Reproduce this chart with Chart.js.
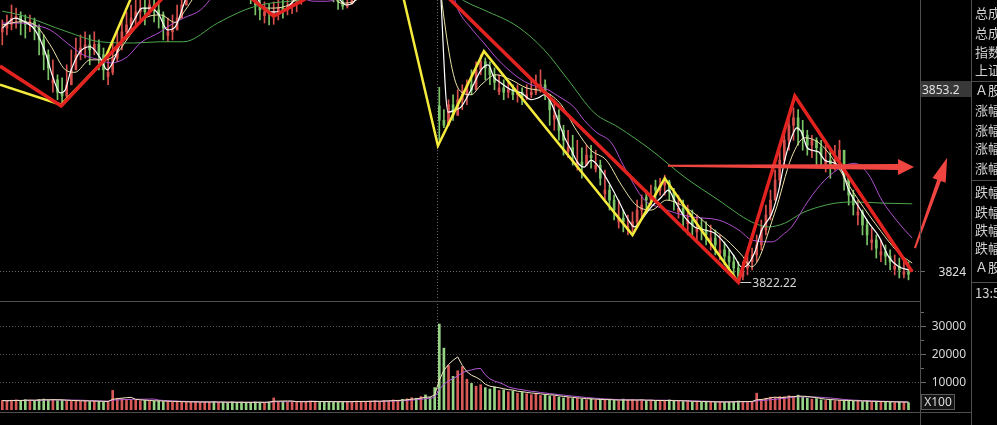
<!DOCTYPE html>
<html lang="zh">
<head>
<meta charset="utf-8">
<title>上证指数 分钟K线</title>
<script src="https://cdn.jsdelivr.net/npm/chart.js@4.4.1/dist/chart.umd.min.js"></script>
<style>
  html, body { margin: 0; padding: 0; background: #000; overflow: hidden; }
  #wrap { position: relative; width: 997px; height: 425px; background: #000; }
  canvas { position: absolute; left: 0; }
  #priceChart { top: 0; }
  #volChart { top: 301px; }
  .rule { position: absolute; background: #4e4e4e; }
  #side { position: absolute; left: 972px; top: 0; width: 25px; height: 425px; overflow: hidden; }
  #side div { position: absolute; left: 3px; white-space: nowrap; font: 13px "Noto Sans CJK SC", sans-serif; color: #d2d2d2; line-height: 16px; }
  #x100 { position: absolute; left: 921px; top: 394px; width: 32px; height: 14px; border: 1px solid #5a5a5a; background: #141414;
          color: #dcdcdc; font: 12px "Noto Sans", sans-serif; line-height: 14px; text-align: center; }
</style>
</head>
<body>
<div id="wrap">
  <canvas id="priceChart" width="997" height="300"></canvas>
  <canvas id="volChart" width="997" height="124"></canvas>

  <div class="rule" style="left:920px;top:0;width:1px;height:425px"></div>
  <div class="rule" style="left:971px;top:0;width:1px;height:425px"></div>
  <div class="rule" style="left:0;top:301px;width:920px;height:1px"></div>
  <div class="rule" style="left:0;top:412px;width:971px;height:1px"></div>
  <div class="rule" style="left:972px;top:81px;width:25px;height:1px"></div>
  <div class="rule" style="left:972px;top:180px;width:25px;height:1px"></div>
  <div class="rule" style="left:972px;top:282px;width:25px;height:1px"></div>

  <div id="x100">X100</div>

  <div id="side">
    <div style="top:5px">总成交额</div>
    <div style="top:25px">总成交量</div>
    <div style="top:44px">指数涨跌</div>
    <div style="top:62px">上证指数</div>
    <div style="top:82px">Ａ股涨家数</div>
    <div style="top:102px">涨幅&gt;7%</div>
    <div style="top:122px">涨幅5-7%</div>
    <div style="top:140px">涨幅3-5%</div>
    <div style="top:160px">涨幅0-3%</div>
    <div style="top:184px">跌幅0-3%</div>
    <div style="top:204px">跌幅3-5%</div>
    <div style="top:222px">跌幅5-7%</div>
    <div style="top:240px">跌幅&gt;7%</div>
    <div style="top:259px">Ａ股跌家数</div>
    <div style="top:285px">13:55</div>
  </div>
</div>

<script>
// ---- bar data (one entry per minute bar) ----
const opens = [
  3862.4, 3863.0, 3863.6, 3864.6, 3864.9, 3864.0, 3863.6, 3864.0, 3863.0, 3861.1,
  3858.7, 3854.2, 3854.7, 3852.7, 3852.1, 3853.9, 3856.3, 3858.7, 3859.8, 3860.3,
  3859.5, 3860.4, 3858.7, 3855.2, 3855.9, 3858.2, 3860.3, 3862.4, 3863.5, 3864.6,
  3865.6, 3866.2, 3865.6, 3866.7, 3865.9, 3865.1, 3861.8, 3862.4, 3862.7, 3864.6,
  3866.7, 3869.1, 3870.5, 3872.0, 3873.2, 3874.0, 3875.0, 3874.5, 3875.5, 3874.8,
  3873.5, 3872.5, 3871.5, 3870.5, 3869.5, 3868.5, 3866.7, 3865.0, 3865.6, 3865.0,
  3865.6, 3866.2, 3865.9, 3866.5, 3866.9, 3867.2, 3868.5, 3869.8, 3870.6, 3871.2,
  3870.8, 3870.0, 3869.2, 3868.4, 3867.2, 3866.5, 3866.9, 3867.8, 3868.8, 3869.9,
  3871.0, 3871.8, 3872.5, 3873.4, 3874.2, 3874.8, 3875.5, 3876.0, 3875.6, 3876.2,
  3876.8, 3876.3, 3877.0, 3876.5, 3875.8, 3850.5, 3848.2, 3847.4, 3850.7, 3849.0,
  3851.5, 3852.3, 3853.9, 3853.1, 3856.3, 3857.6, 3856.6, 3855.5, 3852.8, 3853.4,
  3852.7, 3853.1, 3852.3, 3852.7, 3851.8, 3852.3, 3852.7, 3853.4, 3853.9, 3852.3,
  3848.4, 3849.0, 3846.6, 3843.2, 3843.8, 3840.9, 3841.5, 3841.0, 3842.6, 3840.4,
  3841.0, 3836.4, 3837.0, 3835.4, 3831.9, 3832.5, 3830.6, 3831.2, 3831.9, 3833.8,
  3835.9, 3835.4, 3837.5, 3837.0, 3837.8, 3838.3, 3836.7, 3833.5, 3834.1, 3831.6,
  3832.2, 3830.3, 3830.9, 3830.6, 3828.8, 3829.3, 3826.8, 3827.4, 3826.4, 3825.5,
  3824.5, 3823.2, 3824.5, 3825.5, 3826.6, 3828.2, 3830.6, 3833.0, 3835.4, 3838.6,
  3841.8, 3845.0, 3847.4, 3848.6, 3846.6, 3845.8, 3844.2, 3845.0, 3843.8, 3841.2,
  3841.8, 3841.0, 3841.8, 3843.4, 3838.9, 3836.2, 3833.0, 3833.5, 3831.4, 3828.6,
  3829.0, 3826.6, 3827.1, 3826.4, 3824.3, 3824.8, 3823.5, 3823.9
];
const highs = [
  3864.3, 3865.1, 3866.7, 3866.2, 3865.6, 3865.1, 3865.1, 3864.6, 3863.5, 3861.9,
  3859.5, 3857.9, 3855.5, 3855.0, 3857.1, 3859.5, 3861.4, 3861.9, 3862.4, 3861.9,
  3862.4, 3861.1, 3859.8, 3858.7, 3860.8, 3862.7, 3864.3, 3865.6, 3866.7, 3867.8,
  3868.3, 3867.8, 3868.5, 3867.5, 3867.2, 3865.6, 3864.6, 3865.1, 3866.7, 3868.3,
  3869.9, 3872.0, 3873.5, 3874.8, 3875.5, 3876.5, 3876.2, 3877.0, 3876.5, 3875.5,
  3874.5, 3873.2, 3872.5, 3871.2, 3870.2, 3868.3, 3867.5, 3867.2, 3866.9, 3867.2,
  3867.8, 3867.5, 3868.3, 3868.8, 3869.5, 3870.5, 3871.5, 3872.4, 3873.0, 3872.5,
  3871.8, 3870.8, 3870.0, 3869.0, 3868.0, 3868.5, 3869.2, 3870.5, 3871.6, 3872.5,
  3873.4, 3874.0, 3875.0, 3875.8, 3876.5, 3877.2, 3877.6, 3877.2, 3877.8, 3878.4,
  3878.0, 3878.6, 3878.2, 3877.4, 3876.8, 3853.5, 3849.9, 3851.5, 3852.3, 3853.1,
  3853.9, 3854.7, 3856.3, 3857.6, 3858.7, 3858.2, 3857.6, 3856.6, 3855.5, 3854.7,
  3854.3, 3853.9, 3853.9, 3853.4, 3853.9, 3854.7, 3855.5, 3856.3, 3854.7, 3852.3,
  3851.5, 3849.9, 3847.4, 3846.6, 3845.8, 3845.0, 3843.8, 3844.2, 3844.2, 3843.4,
  3841.8, 3840.2, 3837.8, 3836.2, 3835.4, 3833.8, 3833.0, 3833.5, 3835.4, 3836.2,
  3837.0, 3837.8, 3838.6, 3838.9, 3839.4, 3838.6, 3837.3, 3836.2, 3835.4, 3834.6,
  3833.8, 3833.0, 3832.5, 3831.9, 3831.4, 3830.6, 3829.8, 3828.7, 3827.4, 3826.6,
  3825.5, 3825.5, 3826.6, 3827.7, 3829.8, 3832.2, 3834.6, 3837.0, 3840.2, 3843.4,
  3846.6, 3848.6, 3850.2, 3849.9, 3848.2, 3846.6, 3845.8, 3845.4, 3845.0, 3844.2,
  3843.4, 3844.2, 3845.0, 3841.8, 3839.4, 3837.0, 3835.4, 3833.8, 3832.2, 3830.9,
  3829.8, 3829.0, 3828.2, 3827.4, 3826.6, 3826.1, 3825.8, 3825.5
];
const lows = [
  3860.3, 3861.9, 3862.7, 3863.0, 3861.9, 3861.4, 3862.4, 3861.1, 3858.7, 3856.3,
  3854.7, 3852.7, 3851.5, 3851.1, 3851.8, 3853.9, 3856.3, 3857.9, 3858.2, 3857.1,
  3858.7, 3856.3, 3854.7, 3853.9, 3855.5, 3857.6, 3859.5, 3861.1, 3862.7, 3863.5,
  3864.3, 3863.5, 3865.1, 3864.0, 3863.0, 3861.1, 3860.8, 3861.1, 3862.7, 3865.1,
  3866.7, 3868.5, 3869.8, 3871.0, 3872.0, 3873.0, 3872.8, 3873.5, 3873.0, 3871.8,
  3870.8, 3869.8, 3868.8, 3867.8, 3866.9, 3865.1, 3864.3, 3863.8, 3863.5, 3863.6,
  3864.3, 3864.6, 3865.1, 3865.3, 3865.6, 3866.8, 3868.0, 3868.9, 3869.5, 3869.2,
  3868.5, 3867.9, 3867.2, 3866.0, 3866.0, 3866.2, 3866.8, 3867.6, 3868.6, 3869.6,
  3870.4, 3871.0, 3871.8, 3872.8, 3873.2, 3874.0, 3874.5, 3874.0, 3874.7, 3875.2,
  3874.8, 3875.4, 3875.0, 3874.2, 3873.4, 3845.0, 3847.0, 3847.4, 3848.2, 3849.0,
  3849.9, 3850.7, 3852.3, 3853.9, 3855.5, 3854.7, 3853.9, 3853.1, 3852.3, 3851.5,
  3851.8, 3851.5, 3851.1, 3850.7, 3851.5, 3851.8, 3852.3, 3852.7, 3851.5, 3847.4,
  3846.6, 3845.0, 3842.6, 3842.2, 3841.0, 3840.2, 3838.9, 3841.0, 3840.5, 3839.9,
  3837.8, 3835.4, 3833.8, 3832.2, 3830.9, 3830.3, 3829.8, 3830.3, 3831.4, 3832.5,
  3833.5, 3834.6, 3835.4, 3836.2, 3836.2, 3835.4, 3833.8, 3832.5, 3830.6, 3829.8,
  3829.3, 3829.0, 3829.0, 3828.2, 3827.4, 3826.6, 3825.8, 3825.0, 3824.2, 3823.4,
  3822.22, 3822.6, 3823.4, 3824.2, 3825.5, 3827.4, 3829.8, 3832.2, 3835.4, 3837.8,
  3841.0, 3843.4, 3845.0, 3844.2, 3843.4, 3842.6, 3842.2, 3841.0, 3840.5, 3839.9,
  3838.9, 3840.2, 3841.0, 3837.0, 3834.6, 3833.0, 3831.4, 3829.8, 3828.2, 3827.4,
  3826.1, 3825.5, 3825.0, 3824.2, 3823.4, 3822.9, 3822.9, 3822.6
];
const closes = [
  3863.0, 3863.6, 3864.6, 3864.9, 3864.0, 3863.6, 3864.0, 3863.0, 3861.1, 3858.7,
  3856.6, 3854.7, 3852.7, 3852.1, 3853.9, 3856.3, 3858.7, 3859.8, 3860.3, 3859.5,
  3860.4, 3858.7, 3856.3, 3855.9, 3858.2, 3860.3, 3862.4, 3863.5, 3864.6, 3865.6,
  3866.2, 3865.6, 3866.7, 3865.9, 3865.1, 3863.0, 3862.4, 3862.7, 3864.6, 3866.7,
  3869.1, 3870.5, 3872.0, 3873.2, 3874.0, 3875.0, 3874.5, 3875.5, 3874.8, 3873.5,
  3872.5, 3871.5, 3870.5, 3869.5, 3868.5, 3866.7, 3865.9, 3865.6, 3865.3, 3865.6,
  3866.2, 3865.9, 3866.5, 3866.9, 3867.2, 3868.5, 3869.8, 3870.6, 3871.2, 3870.8,
  3870.0, 3869.2, 3868.4, 3867.2, 3866.5, 3866.9, 3867.8, 3868.8, 3869.9, 3871.0,
  3871.8, 3872.5, 3873.4, 3874.2, 3874.8, 3875.5, 3876.0, 3875.6, 3876.2, 3876.8,
  3876.3, 3877.0, 3876.5, 3875.8, 3875.0, 3848.2, 3847.4, 3850.7, 3849.0, 3851.5,
  3852.3, 3853.9, 3853.1, 3856.3, 3857.6, 3856.6, 3855.5, 3854.3, 3853.4, 3852.7,
  3853.1, 3852.3, 3852.7, 3851.8, 3852.3, 3852.7, 3853.4, 3853.9, 3852.3, 3849.9,
  3849.0, 3846.6, 3845.0, 3843.8, 3842.6, 3841.5, 3841.0, 3842.6, 3842.2, 3841.0,
  3838.9, 3837.0, 3835.4, 3833.8, 3832.5, 3831.9, 3831.2, 3831.9, 3833.8, 3834.6,
  3835.4, 3836.2, 3837.0, 3837.8, 3838.3, 3836.7, 3835.4, 3834.1, 3833.0, 3832.2,
  3831.4, 3830.9, 3830.6, 3829.8, 3829.3, 3828.2, 3827.4, 3826.4, 3825.5, 3824.5,
  3823.2, 3824.5, 3825.5, 3826.6, 3828.2, 3830.6, 3833.0, 3835.4, 3838.6, 3841.8,
  3845.0, 3847.4, 3848.6, 3846.6, 3845.8, 3844.2, 3845.0, 3843.8, 3842.6, 3841.8,
  3841.0, 3841.8, 3843.4, 3838.9, 3836.2, 3834.6, 3833.5, 3831.4, 3829.8, 3829.0,
  3827.7, 3827.1, 3826.4, 3825.5, 3824.8, 3824.2, 3823.9, 3823.5
];
const volumes = [
  3400, 3200, 3500, 3600, 3300, 3700, 3500, 3400, 3800, 3900,
  3600, 3700, 3400, 3500, 3300, 3200, 3400, 3100, 3300, 3000,
  3200, 3100, 2900, 3000, 7000, 4200, 4000, 3800, 3600, 3500,
  3300, 3400, 3200, 3100, 3300, 3000, 3100, 2900, 3000, 2800,
  2900, 2800, 3000, 2700, 2900, 2800, 3000, 2700, 2800, 2600,
  2900, 2700, 2800, 2600, 2700, 2900, 2800, 2700, 2900, 4300,
  3100, 3000, 2800, 2900, 3100, 3000, 2900, 3200, 3000, 2900,
  3100, 3000, 2800, 3000, 2900, 3100, 3000, 3200, 3100, 3000,
  3200, 3300, 3100, 3400, 3300, 3600, 3500, 3800, 4000, 4400,
  4200, 4800, 5400, 4500, 8000, 30700, 22100, 16000, 12000, 14000,
  15500, 11000, 9500, 8500, 9000, 8000, 7500, 8200, 7000, 7200,
  6500, 6800, 6000, 6300, 5800, 5500, 6000, 5200, 5400, 5000,
  5000, 4600, 4300, 4500, 4100, 4200, 3900, 3700, 4000, 3600,
  3800, 3500, 3700, 3400, 3300, 3900, 3500, 3700, 3400, 3600,
  3300, 3500, 3200, 3400, 3300, 3600, 3100, 3300, 3000, 3200,
  2900, 3100, 2800, 3000, 2900, 2700, 3000, 2800, 2900, 3100,
  3200, 3000, 2900, 3100, 6000, 3800, 4200, 4600, 4400, 4800,
  4700, 5100, 4900, 5300, 4600, 4300, 3900, 4100, 3600, 3400,
  3700, 3300, 3500, 3200, 3400, 3100, 3300, 3000, 3200, 2900,
  3100, 2800, 3000, 2900, 2700, 2900, 2800, 2600
];

// ---- average lines: [bar index, price] ----
const ma5Line = [
  [0,3863.0],[2.8,3864.6],[4.9,3864.0],[7.1,3862.7],[9.3,3859.2],[11.0,3855.1],[12.6,3852.6],[13.7,3853.1],
  [14.8,3855.9],[16.9,3859.2],[19.1,3860.0],[21.3,3858.2],[22.8,3856.3],[24.1,3857.6],[25.6,3860.3],[27.2,3862.2],
  [28.9,3864.6],[30.4,3866.2],[32.2,3866.2],[33.9,3865.3],[35.9,3862.7],[37.6,3863.2],[39.4,3866.7],[40.5,3869.1],
  [46,3874.0],[52,3871.0],[55.1,3868.3],[56.6,3866.2],[58.3,3865.6],[60.1,3865.6],[61.8,3866.2],[63.8,3867.8],
  [67,3870.5],[71,3869.5],[73.1,3867.8],[74.7,3866.7],[76.2,3867.0],[77.9,3869.1],[84,3874.0],[94.5,3875.5],
  [96.9,3849.5],[98.6,3849.9],[99.7,3850.3],[101.9,3853.1],[104.1,3856.3],[105.6,3857.1],[106.9,3855.1],[108.4,3854.2],
  [110.6,3853.1],[112.8,3852.6],[115.0,3851.5],[116.5,3851.8],[117.8,3852.3],[119.3,3851.0],[120.8,3848.2],[122.2,3845.5],
  [123.7,3843.4],[125.2,3841.3],[126.5,3840.7],[128.0,3841.8],[130.2,3840.2],[132.4,3837.5],[133.9,3835.4],[136.1,3832.2],
  [137.4,3831.1],[138.9,3832.2],[141.1,3834.3],[143.3,3835.9],[144.8,3837.0],[146.1,3835.4],[148.3,3832.7],[150.5,3831.1],
  [152.7,3830.6],[154.8,3830.1],[157.0,3828.5],[159.2,3826.3],[160.7,3824.7],[161.4,3824.7],[163.5,3826.9],[165.1,3830.6],
  [167.3,3833.3],[168.8,3837.0],[170.1,3841.8],[171.6,3845.5],[172.7,3847.0],[173.8,3846.2],[174.9,3843.9],[176.0,3843.4],
  [177.5,3843.1],[178.8,3841.8],[181.0,3841.3],[182.5,3840.2],[184.0,3837.0],[186.2,3834.3],[188.4,3831.7],[190.6,3829.5],
  [192.7,3826.3],[194.9,3824.7],[197.1,3824.2]
];
const ma10Line = [
  [0,3863.5],[3.9,3864.0],[7.1,3863.5],[10.4,3860.3],[13.7,3856.3],[15.8,3855.9],[19.1,3857.9],[22.4,3857.9],
  [25.2,3859.2],[27.8,3861.9],[31.1,3864.6],[34.4,3865.1],[37.6,3863.9],[39.8,3865.9],[42,3868.3],[48,3873.0],
  [53,3870.0],[55.1,3867.0],[58.3,3866.2],[61.6,3866.5],[64.9,3868.0],[70,3870.0],[73.6,3867.0],[76.2,3867.2],
  [80,3869.5],[88,3875.0],[94.5,3876.0],[95.4,3868.3],[99.3,3853.1],[101.9,3852.3],[104.1,3853.9],[107.3,3855.5],
  [110.6,3854.7],[113.9,3853.4],[118.2,3852.7],[121.5,3850.7],[124.8,3846.6],[128.0,3843.4],[131.3,3841.8],[134.6,3837.8],
  [137.8,3834.6],[141.1,3833.8],[144.4,3835.4],[147.6,3834.6],[150.9,3833.0],[154.2,3830.9],[157.5,3829.0],[160.7,3826.6],
  [162.9,3824.7],[167.9,3833.3],[171.6,3842.3],[174.5,3845.4],[177.5,3844.6],[180.3,3842.3],[184.7,3837.0],[189.7,3831.7],
  [194.9,3826.9],[197.8,3825.3]
];
const ma20Line = [
  [0,3863.8],[3.9,3863.8],[6.7,3863.5],[10.4,3862.7],[14.1,3860.6],[17.6,3858.7],[21.3,3857.9],[23.5,3857.4],
  [27.2,3858.4],[30.0,3860.6],[34.4,3862.4],[35.9,3863.2],[39.4,3864.6],[43.1,3865.9],[45.7,3868.0],[50,3871.0],
  [60,3870.0],[64.9,3868.0],[67.7,3867.3],[70.7,3867.3],[73.6,3868.0],[80,3871.0],[94,3874.0],[98.0,3868.3],
  [99.1,3865.9],[101.9,3863.0],[104.7,3860.6],[107.8,3857.9],[112.1,3855.1],[115.0,3853.9],[117.8,3853.4],[120.8,3852.1],
  [124.3,3850.3],[126.5,3848.2],[129.1,3846.3],[132.4,3844.6],[135.2,3840.7],[139.6,3835.4],[142.6,3834.3],[149.8,3832.7],
  [155.7,3832.2],[160.1,3830.6],[162.9,3829.0],[167.3,3828.7],[170.1,3830.1],[171.6,3831.1],[175.3,3835.4],[178.8,3838.6],
  [182.5,3840.7],[185.3,3841.3],[188.4,3839.4],[191.2,3835.4],[194.9,3831.7],[197.8,3829.3]
];
const ma60Line = [
  [0,3865.7],[3.9,3865.1],[14.1,3862.4],[21.3,3860.8],[28.5,3860.6],[34.4,3860.8],[39.4,3860.8],[46.8,3863.8],
  [51.1,3865.4],[54.6,3866.4],[58.3,3867.0],[62.7,3867.3],[67.0,3867.7],[69.2,3868.3],[80,3870.0],[94,3872.0],
  [98.6,3868.3],[100.8,3867.2],[104.7,3865.9],[112.1,3863.2],[117.8,3859.5],[123.0,3854.7],[128.7,3849.4],[133.9,3847.1],
  [141.1,3843.4],[148.3,3839.1],[155.7,3835.4],[162.9,3831.9],[166.6,3831.1],[170.1,3831.7],[173.8,3833.3],[177.5,3834.3],
  [181.0,3834.9],[184.7,3835.1],[191.9,3834.9],[197.8,3834.8]
];

// ---- hand-drawn trend marks: [bar index, price] ----
const redZigzag = [[-0.5,3856.9],[12.8,3850.5],[43.1,3874.3],[59.0,3864.9],[86.0,3875.8],[160,3822.22],[172.3,3852.1],[197.8,3823.9]];
const yellowZigzag = [[-0.5,3853.9],[12.8,3850.7],[22.2,3857.9],[27.8,3867.5],[30.7,3872.3],[31.5,null],
                      [85.8,3872.3],[94.7,3844.1],[104.7,3859.3],[137.0,3829.8],[144.0,3838.9],[160,3822.22]];
const arrowFlat = [[144.7,3840.9],[198.2,3840.7]];
const arrowUp = [[198.4,3827.7],[205.4,3842.2]];

// ---- axis values ----
const priceRange = [3819.37, 3867.5];
const priceLabels = [3853.2, 3824];
const lowMark = [160, 3822.22];
const dayBreak = 94.5;
const volTicks = [10000, 20000, 30000];
const volRange = [0, 38930];

const upColor = '#d8504e';
const downColor = '#7cc468';
const idx = closes.map((_, i) => i);
const barColor = idx.map(i => closes[i] >= opens[i] ? upColor : downColor);
const pts = arr => arr.map(([x, y]) => ({ x, y }));

function movingAvg(arr, n) {
    return arr.map((_, i) => {
        const s = arr.slice(Math.max(0, i - n + 1), i + 1);
        return s.reduce((a, b) => a + b, 0) / s.length;
    });
}

function dotted(ctx, x1, y1, x2, y2, color) {
    ctx.save();
    ctx.strokeStyle = color;
    ctx.lineWidth = 1;
    ctx.setLineDash([1, 2]);
    ctx.beginPath();
    ctx.moveTo(x1, y1);
    ctx.lineTo(x2, y2);
    ctx.stroke();
    ctx.restore();
}

// tapered arrow from p0 to tip p1 (pixels)
function arrow(ctx, p0, p1, w0, w1, headLen, headHalf, color) {
    const dx = p1[0] - p0[0], dy = p1[1] - p0[1];
    const len = Math.hypot(dx, dy);
    const ux = dx / len, uy = dy / len, nx = -uy, ny = ux;
    const bx = p1[0] - ux * headLen, by = p1[1] - uy * headLen;
    ctx.save();
    ctx.fillStyle = color;
    ctx.beginPath();
    ctx.moveTo(p0[0] + nx * w0 / 2, p0[1] + ny * w0 / 2);
    ctx.lineTo(bx + nx * w1 / 2, by + ny * w1 / 2);
    ctx.lineTo(bx + nx * headHalf, by + ny * headHalf);
    ctx.lineTo(p1[0], p1[1]);
    ctx.lineTo(bx - nx * headHalf, by - ny * headHalf);
    ctx.lineTo(bx - nx * w1 / 2, by - ny * w1 / 2);
    ctx.lineTo(p0[0] - nx * w0 / 2, p0[1] - ny * w0 / 2);
    ctx.closePath();
    ctx.fill();
    ctx.restore();
}

const priceOverlay = {
    id: 'priceOverlay',
    beforeDatasetsDraw(chart) {
        const { ctx, chartArea: a, scales: { x, y } } = chart;
        const gy = Math.round(y.getPixelForValue(3824)) + 0.5;
        dotted(ctx, a.left, gy, a.right, gy, '#6a6a6a');
        const bx = Math.round(x.getPixelForValue(dayBreak)) + 0.5;
        dotted(ctx, bx, a.top, bx, a.bottom, '#6a6a6a');
    },
    afterDatasetsDraw(chart) {
        const { ctx, chartArea: a, scales: { x, y } } = chart;
        const px = p => [x.getPixelForValue(p[0]), y.getPixelForValue(p[1])];

        arrow(ctx, px(arrowFlat[0]), px(arrowFlat[1]), 2, 6, 16, 8, '#ee4540');
        arrow(ctx, px(arrowUp[0]), px(arrowUp[1]), 2, 4, 24, 7, '#ee4540');

        // low marker
        const [lx, ly] = px(lowMark);
        ctx.save();
        ctx.strokeStyle = '#d0d0d0';
        ctx.lineWidth = 1;
        ctx.beginPath();
        ctx.moveTo(lx + 2, Math.round(ly) + 0.5);
        ctx.lineTo(lx + 13, Math.round(ly) + 0.5);
        ctx.stroke();
        ctx.fillStyle = '#d4d4d4';
        ctx.font = '12px "Noto Sans", sans-serif';
        ctx.textBaseline = 'middle';
        ctx.fillText(lowMark[1].toFixed(2), lx + 14, ly + 1);

        // right price axis labels
        priceLabels.forEach((v, k) => {
            const py = y.getPixelForValue(v);
            if (k === 0) {
                ctx.fillStyle = '#383838';
                ctx.fillRect(a.right + 1, Math.round(py) - 8, 50, 16);
                ctx.fillStyle = '#e0e0e0';
                ctx.textAlign = 'left';
                ctx.fillText(String(v), a.right + 2, py + 1);
            } else {
                ctx.fillStyle = '#6a6a6a';
                ctx.fillRect(a.right + 1, Math.round(py), 4, 1);
                ctx.fillStyle = '#e0e0e0';
                ctx.textAlign = 'right';
                ctx.fillText(String(v), a.right + 46, py + 1);
            }
        });
        ctx.restore();
    }
};

const volOverlay = {
    id: 'volOverlay',
    beforeDatasetsDraw(chart) {
        const { ctx, chartArea: a, scales: { x, y } } = chart;
        volTicks.forEach(v => {
            const gy = Math.round(y.getPixelForValue(v)) + 0.5;
            dotted(ctx, a.left, gy, a.right, gy, '#555555');
        });
        const bx = Math.round(x.getPixelForValue(dayBreak)) + 0.5;
        dotted(ctx, bx, a.top, bx, a.bottom, '#6a6a6a');
    },
    afterDatasetsDraw(chart) {
        const { ctx, chartArea: a, scales: { y } } = chart;
        ctx.save();
        ctx.font = '12px "Noto Sans", sans-serif';
        ctx.textBaseline = 'middle';
        ctx.textAlign = 'right';
        volTicks.forEach(v => {
            const py = y.getPixelForValue(v);
            ctx.fillStyle = '#6a6a6a';
            ctx.fillRect(a.right + 1, Math.round(py), 5, 1);
            ctx.fillRect(a.right + 1, Math.round(y.getPixelForValue(v + 5000)), 3, 1);
            ctx.fillStyle = '#d8d8d8';
            ctx.fillText(String(v), a.right + 46, py + 1);
        });
        ctx.restore();
    }
};

Chart.defaults.font.family = '"Noto Sans", sans-serif';

const lineSet = (data, color, width, order, extra) => Object.assign({
    type: 'line', data, borderColor: color, borderWidth: width, pointRadius: 0,
    tension: 0, order
}, extra || {});

new Chart(document.getElementById('priceChart'), {
    type: 'bar',
    data: {
        datasets: [
            {
                data: idx.map(i => ({ x: i, y: [Math.min(lows[i], opens[i], closes[i]), Math.max(highs[i], opens[i], closes[i])] })),
                backgroundColor: barColor, barThickness: 1, grouped: false, order: 10
            },
            {
                data: idx.map(i => ({ x: i, y: [opens[i], closes[i]] })),
                backgroundColor: barColor, barThickness: 2, minBarLength: 1, grouped: false, order: 9
            },
            lineSet(pts(ma60Line), '#4ea84e', 1, 8, { cubicInterpolationMode: 'monotone' }),
            lineSet(pts(ma20Line), '#b24ed0', 1, 7, { cubicInterpolationMode: 'monotone' }),
            lineSet(pts(ma10Line), '#ece3a6', 1, 6, { cubicInterpolationMode: 'monotone' }),
            lineSet(pts(ma5Line), '#ffffff', 1.2, 5, { cubicInterpolationMode: 'monotone' }),
            lineSet(pts(yellowZigzag), '#f4ea3c', 2.5, 3, { spanGaps: false }),
            lineSet(pts(redZigzag), '#e2231f', 3.5, 2)
        ]
    },
    options: {
        responsive: false,
        animation: false,
        events: [],
        layout: { padding: { left: 0, right: 77, top: 0, bottom: 0 } },
        plugins: { legend: { display: false }, tooltip: { enabled: false } },
        scales: {
            x: { type: 'linear', min: -0.5, max: 199.5, offset: false, display: false },
            y: { min: priceRange[0], max: priceRange[1], display: false }
        }
    },
    plugins: [priceOverlay]
});

new Chart(document.getElementById('volChart'), {
    type: 'bar',
    data: {
        datasets: [
            {
                data: idx.map(i => ({ x: i, y: volumes[i] })),
                backgroundColor: idx.map(i => closes[i] >= opens[i] ? '#d85a58' : '#98d486'),
                barThickness: 2, grouped: false, order: 5
            },
            lineSet(idx.map(i => ({ x: i, y: movingAvg(volumes, 10)[i] })), '#b45ad6', 1, 2),
            lineSet(idx.map(i => ({ x: i, y: movingAvg(volumes, 5)[i] })), '#f0e6c0', 1, 1)
        ]
    },
    options: {
        responsive: false,
        animation: false,
        events: [],
        layout: { padding: { left: 0, right: 77, top: 0, bottom: 15 } },
        plugins: { legend: { display: false }, tooltip: { enabled: false } },
        scales: {
            x: { type: 'linear', min: -0.5, max: 199.5, offset: false, display: false },
            y: { min: volRange[0], max: volRange[1], display: false }
        }
    },
    plugins: [volOverlay]
});
</script>
</body>
</html>
